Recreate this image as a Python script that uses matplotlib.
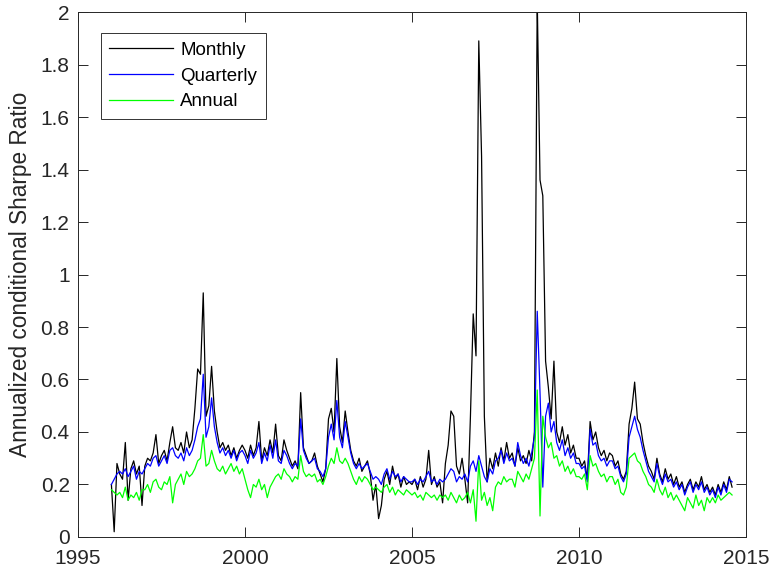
import numpy as np
import pandas as pd
import matplotlib
matplotlib.use("Agg")
from matplotlib import pyplot as plt
from matplotlib.ticker import FuncFormatter

plt.rcParams['font.family'] = ['Liberation Sans', 'DejaVu Sans']

# monthly readings, Jan 1996 .. Aug 2014 (12 per year, 8 in 2014)
monthly = [
    0.20, 0.02, 0.28, 0.24, 0.22, 0.36, 0.14, 0.26, 0.29, 0.24, 0.27, 0.12,   # 1996
    0.27, 0.30, 0.29, 0.32, 0.39, 0.28, 0.31, 0.33, 0.29, 0.36, 0.42, 0.34,   # 1997
    0.33, 0.36, 0.32, 0.40, 0.34, 0.37, 0.49, 0.64, 0.62, 0.93, 0.46, 0.50,   # 1998
    0.65, 0.48, 0.40, 0.34, 0.36, 0.33, 0.35, 0.31, 0.34, 0.30, 0.33, 0.35,   # 1999
    0.33, 0.30, 0.35, 0.31, 0.34, 0.44, 0.29, 0.34, 0.31, 0.37, 0.32, 0.43,   # 2000
    0.31, 0.29, 0.37, 0.33, 0.30, 0.27, 0.29, 0.26, 0.55, 0.34, 0.31, 0.28,   # 2001
    0.29, 0.32, 0.27, 0.24, 0.21, 0.26, 0.45, 0.49, 0.40, 0.68, 0.42, 0.36,   # 2002
    0.48, 0.40, 0.33, 0.29, 0.27, 0.30, 0.25, 0.27, 0.29, 0.24, 0.14, 0.20,   # 2003
    0.07, 0.12, 0.22, 0.25, 0.20, 0.27, 0.22, 0.24, 0.19, 0.23, 0.20, 0.21,   # 2004
    0.20, 0.22, 0.18, 0.23, 0.19, 0.22, 0.33, 0.20, 0.23, 0.19, 0.21, 0.13,   # 2005
    0.28, 0.35, 0.48, 0.46, 0.27, 0.24, 0.30, 0.22, 0.13, 0.46, 0.85, 0.69,   # 2006
    1.89, 1.45, 0.46, 0.21, 0.30, 0.26, 0.32, 0.27, 0.34, 0.29, 0.36, 0.30,   # 2007
    0.32, 0.27, 0.34, 0.29, 0.31, 0.28, 0.33, 0.29, 0.40, 2.05, 1.36, 1.30,   # 2008
    0.67, 0.57, 0.45, 0.67, 0.40, 0.36, 0.42, 0.35, 0.39, 0.32, 0.35, 0.30,   # 2009
    0.30, 0.27, 0.29, 0.22, 0.44, 0.37, 0.40, 0.34, 0.31, 0.33, 0.29, 0.32,   # 2010
    0.31, 0.27, 0.29, 0.24, 0.22, 0.25, 0.43, 0.49, 0.59, 0.45, 0.43, 0.36,   # 2011
    0.31, 0.27, 0.25, 0.22, 0.30, 0.24, 0.21, 0.26, 0.22, 0.24, 0.20, 0.23,   # 2012
    0.19, 0.21, 0.17, 0.20, 0.22, 0.18, 0.21, 0.19, 0.23, 0.18, 0.20, 0.17,   # 2013
    0.19, 0.16, 0.20, 0.17, 0.21, 0.18, 0.23, 0.19,                           # 2014
]

quarterly = [
    0.20, 0.22, 0.24, 0.25, 0.24, 0.26, 0.23, 0.25, 0.27, 0.22, 0.25, 0.24,   # 1996
    0.26, 0.28, 0.27, 0.30, 0.31, 0.27, 0.29, 0.31, 0.28, 0.33, 0.34, 0.31,   # 1997
    0.30, 0.32, 0.29, 0.34, 0.31, 0.33, 0.37, 0.42, 0.45, 0.62, 0.38, 0.42,   # 1998
    0.53, 0.42, 0.36, 0.32, 0.34, 0.31, 0.33, 0.30, 0.33, 0.29, 0.32, 0.33,   # 1999
    0.31, 0.28, 0.33, 0.30, 0.32, 0.36, 0.28, 0.32, 0.29, 0.35, 0.30, 0.37,   # 2000
    0.29, 0.28, 0.33, 0.31, 0.28, 0.26, 0.28, 0.27, 0.45, 0.33, 0.30, 0.28,   # 2001
    0.29, 0.30, 0.26, 0.25, 0.23, 0.26, 0.38, 0.43, 0.37, 0.52, 0.38, 0.34,   # 2002
    0.44, 0.38, 0.32, 0.28, 0.26, 0.28, 0.26, 0.27, 0.28, 0.25, 0.22, 0.23,   # 2003
    0.22, 0.20, 0.24, 0.26, 0.22, 0.25, 0.23, 0.24, 0.21, 0.23, 0.22, 0.21,   # 2004
    0.21, 0.22, 0.20, 0.22, 0.21, 0.23, 0.25, 0.21, 0.22, 0.20, 0.22, 0.21,   # 2005
    0.22, 0.24, 0.26, 0.25, 0.21, 0.23, 0.22, 0.24, 0.21, 0.27, 0.29, 0.25,   # 2006
    0.31, 0.27, 0.23, 0.21, 0.26, 0.24, 0.29, 0.30, 0.33, 0.28, 0.32, 0.29,   # 2007
    0.30, 0.27, 0.36, 0.31, 0.28, 0.30, 0.27, 0.32, 0.38, 0.86, 0.55, 0.19,   # 2008
    0.46, 0.51, 0.40, 0.44, 0.36, 0.33, 0.37, 0.31, 0.34, 0.30, 0.32, 0.28,   # 2009
    0.28, 0.26, 0.27, 0.21, 0.41, 0.35, 0.36, 0.31, 0.29, 0.30, 0.27, 0.29,   # 2010
    0.29, 0.26, 0.27, 0.23, 0.21, 0.24, 0.38, 0.42, 0.46, 0.41, 0.38, 0.33,   # 2011
    0.29, 0.25, 0.23, 0.21, 0.28, 0.23, 0.20, 0.24, 0.21, 0.22, 0.19, 0.21,   # 2012
    0.18, 0.20, 0.16, 0.19, 0.21, 0.17, 0.20, 0.18, 0.21, 0.17, 0.19, 0.16,   # 2013
    0.18, 0.15, 0.19, 0.16, 0.20, 0.17, 0.22, 0.21,                           # 2014
]

annual = [
    0.18, 0.17, 0.16, 0.17, 0.15, 0.19, 0.14, 0.16, 0.15, 0.17, 0.14, 0.18,   # 1996
    0.18, 0.20, 0.17, 0.21, 0.22, 0.19, 0.18, 0.21, 0.20, 0.23, 0.13, 0.20,   # 1997
    0.22, 0.24, 0.20, 0.25, 0.23, 0.24, 0.26, 0.29, 0.30, 0.39, 0.27, 0.28,   # 1998
    0.33, 0.29, 0.26, 0.25, 0.27, 0.24, 0.26, 0.28, 0.25, 0.27, 0.24, 0.26,   # 1999
    0.22, 0.18, 0.15, 0.20, 0.19, 0.22, 0.18, 0.20, 0.15, 0.19, 0.21, 0.23,   # 2000
    0.24, 0.22, 0.26, 0.24, 0.23, 0.21, 0.23, 0.22, 0.31, 0.25, 0.23, 0.24,   # 2001
    0.23, 0.24, 0.21, 0.22, 0.20, 0.23, 0.27, 0.30, 0.28, 0.34, 0.29, 0.28,   # 2002
    0.30, 0.28, 0.25, 0.22, 0.20, 0.23, 0.21, 0.23, 0.22, 0.20, 0.18, 0.19,   # 2003
    0.18, 0.17, 0.19, 0.20, 0.17, 0.19, 0.16, 0.18, 0.17, 0.16, 0.18, 0.17,   # 2004
    0.16, 0.17, 0.15, 0.16, 0.14, 0.17, 0.16, 0.15, 0.16, 0.14, 0.16, 0.15,   # 2005
    0.16, 0.14, 0.17, 0.15, 0.13, 0.16, 0.14, 0.15, 0.17, 0.13, 0.18, 0.06,   # 2006
    0.29, 0.14, 0.17, 0.12, 0.15, 0.10, 0.19, 0.21, 0.20, 0.23, 0.21, 0.22,   # 2007
    0.22, 0.19, 0.25, 0.23, 0.21, 0.24, 0.22, 0.26, 0.30, 0.56, 0.08, 0.46,   # 2008
    0.38, 0.34, 0.36, 0.30, 0.31, 0.27, 0.29, 0.25, 0.27, 0.24, 0.26, 0.23,   # 2009
    0.23, 0.22, 0.24, 0.18, 0.31, 0.27, 0.28, 0.25, 0.23, 0.24, 0.21, 0.23,   # 2010
    0.23, 0.20, 0.22, 0.17, 0.16, 0.19, 0.30, 0.31, 0.32, 0.29, 0.28, 0.25,   # 2011
    0.23, 0.20, 0.19, 0.17, 0.22, 0.18, 0.16, 0.19, 0.15, 0.17, 0.14, 0.16,   # 2012
    0.14, 0.12, 0.10, 0.15, 0.13, 0.11, 0.16, 0.12, 0.14, 0.10, 0.15, 0.13,   # 2013
    0.15, 0.13, 0.16, 0.14, 0.15, 0.16, 0.17, 0.16,                           # 2014
]

# decimal-year time axis, one point per month from Jan 1996
dates = pd.date_range('1996-01-01', periods=len(monthly), freq='MS')
t = dates.year + (dates.month - 1) / 12.0

fig = plt.figure(figsize=(7.7, 5.75), dpi=100)
ax = fig.add_axes([0.1013, 0.0661, 0.8675, 0.913])

ax.plot(t, monthly, color='black', linewidth=0.9, label='Monthly')
ax.plot(t, quarterly, color='#0000ff', linewidth=0.9, label='Quarterly')
ax.plot(t, annual, color='#00ff00', linewidth=0.9, label='Annual')

ax.set_xlim(1995, 2015)
ax.set_ylim(0, 2)
ax.set_xticks(np.arange(1995, 2016, 5))
ax.set_yticks(np.arange(0, 2.01, 0.2))
ax.yaxis.set_major_formatter(FuncFormatter(lambda v, p: '%g' % round(v, 1)))

axcol = '#262626'
for s in ax.spines.values():
    s.set_color(axcol)
    s.set_linewidth(0.7)
ax.tick_params(direction='in', length=7, width=0.7, colors=axcol,
               labelsize=15, top=True, right=True)
ax.tick_params(axis='x', pad=9)
ax.tick_params(axis='y', pad=6)
ax.set_ylabel('Annualized conditional Sharpe Ratio', fontsize=16.3, color=axcol,
              labelpad=6)

leg = ax.legend(loc='upper left', bbox_to_anchor=(0.02, 0.977), fontsize=13.5,
                frameon=True, fancybox=False, edgecolor='black',
                handlelength=3.4, handletextpad=0.4, borderpad=0.45,
                labelspacing=0.45)
leg.get_frame().set_linewidth(0.7)

plt.savefig('out.png', dpi=100)
